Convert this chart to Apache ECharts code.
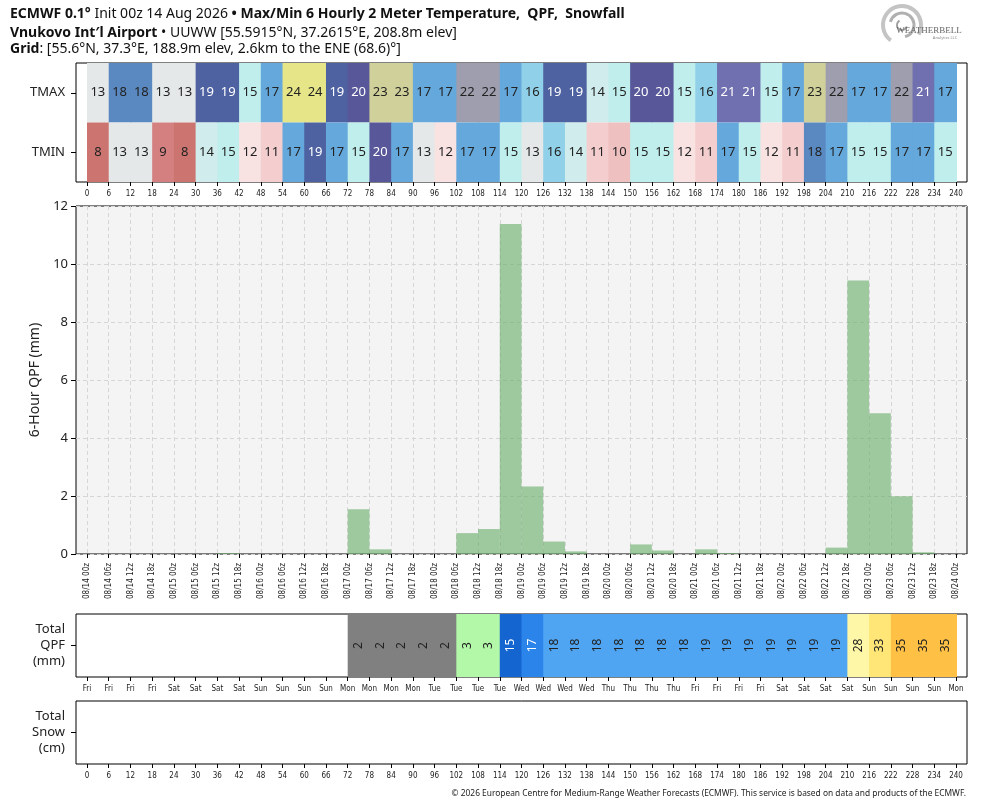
<!DOCTYPE html>
<html>
<head>
<meta charset="utf-8">
<title>ECMWF Vnukovo meteogram</title>
<script src="https://cdn.jsdelivr.net/npm/echarts@6/dist/echarts.min.js"></script>
<style>
html, body { margin: 0; padding: 0; background: #fff; }
#chart { width: 984px; height: 808px; }
</style>
</head>
<body>
<div id="chart"></div>
<script>
// forecast hour at the start of each 6 hour step
var stepHours = [0, 6, 12, 18, 24, 30, 36, 42, 48, 54, 60, 66, 72, 78, 84, 90, 96, 102, 108, 114,
    120, 126, 132, 138, 144, 150, 156, 162, 168, 174, 180, 186, 192, 198, 204, 210, 216, 222, 228, 234];

var tmax = [13, 18, 18, 13, 13, 19, 19, 15, 17, 24, 24, 19, 20, 23, 23, 17, 17, 22, 22, 17,
    16, 19, 19, 14, 15, 20, 20, 15, 16, 21, 21, 15, 17, 23, 22, 17, 17, 22, 21, 17];
var tmin = [8, 13, 13, 9, 8, 14, 15, 12, 11, 17, 19, 17, 15, 20, 17, 13, 12, 17, 17, 15,
    13, 16, 14, 11, 10, 15, 15, 12, 11, 17, 15, 12, 11, 18, 17, 15, 15, 17, 17, 15];

// 6-hour QPF (mm)
var qpf6 = [0, 0, 0, 0, 0, 0, 0.03, 0, 0, 0, 0, 0, 1.54, 0.16, 0, 0, 0, 0.72, 0.86, 11.38,
    2.33, 0.43, 0.09, 0, 0, 0.33, 0.12, 0, 0.16, 0.03, 0, 0, 0, 0, 0.22, 9.43, 4.85, 1.99, 0.06, 0];

// total QPF shown in the strip (mm), null = blank
var qpfTotal = [null, null, null, null, null, null, null, null, null, null, null, null,
    2, 2, 2, 2, 2, 3, 3, 15, 17, 18, 18, 18, 18, 18, 18, 18, 19, 19, 19, 19, 19, 19, 19,
    28, 33, 35, 35, 35];

// total snow (cm): nothing forecast
var snowTotal = [];

var timeLabels = ['08/14 00z', '08/14 06z', '08/14 12z', '08/14 18z', '08/15 00z', '08/15 06z',
    '08/15 12z', '08/15 18z', '08/16 00z', '08/16 06z', '08/16 12z', '08/16 18z', '08/17 00z',
    '08/17 06z', '08/17 12z', '08/17 18z', '08/18 00z', '08/18 06z', '08/18 12z', '08/18 18z',
    '08/19 00z', '08/19 06z', '08/19 12z', '08/19 18z', '08/20 00z', '08/20 06z', '08/20 12z',
    '08/20 18z', '08/21 00z', '08/21 06z', '08/21 12z', '08/21 18z', '08/22 00z', '08/22 06z',
    '08/22 12z', '08/22 18z', '08/23 00z', '08/23 06z', '08/23 12z', '08/23 18z', '08/24 00z'];

var dayLabels = ['Fri', 'Fri', 'Fri', 'Fri', 'Sat', 'Sat', 'Sat', 'Sat', 'Sun', 'Sun', 'Sun', 'Sun',
    'Mon', 'Mon', 'Mon', 'Mon', 'Tue', 'Tue', 'Tue', 'Tue', 'Wed', 'Wed', 'Wed', 'Wed',
    'Thu', 'Thu', 'Thu', 'Thu', 'Fri', 'Fri', 'Fri', 'Fri', 'Sat', 'Sat', 'Sat', 'Sat',
    'Sun', 'Sun', 'Sun', 'Sun', 'Mon'];

var FONT = 'Noto Sans';
var TICKFONT = '"DejaVu Sans Condensed", "Noto Sans"';

var tempColors = {
    8: '#cc7570', 9: '#d48080', 10: '#efc0c0', 11: '#f4cece', 12: '#f8e2e2', 13: '#e4e8e8',
    14: '#d0ecec', 15: '#bfeeed', 16: '#90d0e8', 17: '#64a8dc', 18: '#5a88c0', 19: '#4e62a2',
    20: '#57579a', 21: '#7070b0', 22: '#9e9eae', 23: '#d0d09a', 24: '#e6e688'
};
var qpfColors = {
    2: '#808080', 3: '#b3f7a8', 15: '#1565d0', 17: '#2b84ea', 18: '#4fa5f2', 19: '#4fa5f2',
    28: '#fff7a8', 33: '#ffe677', 35: '#ffc145'
};

function cellItem(colorOf, textOf, rotate, fontSize) {
    return function (params, api) {
        var start = api.value(0);
        var row = api.value(1);
        var v = api.value(2);
        var c = api.coord([start, row]);
        var sz = api.size([6, 1]);
        return {
            type: 'group',
            children: [{
                type: 'rect',
                shape: { x: c[0], y: c[1] - sz[1] / 2, width: sz[0] + 1, height: sz[1] },
                style: { fill: colorOf(v) }
            }, {
                type: 'text',
                x: c[0] + sz[0] / 2,
                y: c[1],
                rotation: rotate,
                style: {
                    text: String(v),
                    fill: textOf(v),
                    fontSize: fontSize,
                    fontFamily: FONT,
                    align: 'center',
                    verticalAlign: 'middle'
                }
            }]
        };
    };
}

function barItem(params, api) {
    var start = api.value(0);
    var val = api.value(1);
    var p0 = api.coord([start, val]);
    var p1 = api.coord([start + 6, 0]);
    return {
        type: 'rect',
        shape: { x: p0[0], y: p0[1], width: p1[0] - p0[0], height: p1[1] - p0[1] },
        style: { fill: 'rgba(100,170,100,0.6)' }
    };
}

var tempData = [];
stepHours.forEach(function (h, i) {
    tempData.push([h, 1, tmax[i]]);
    tempData.push([h, 0, tmin[i]]);
});
var qpfData = [];
stepHours.forEach(function (h, i) {
    if (qpf6[i] > 0) qpfData.push([h, qpf6[i]]);
});
var totalData = [];
stepHours.forEach(function (h, i) {
    if (qpfTotal[i] != null) totalData.push([h, 0, qpfTotal[i]]);
});
var snowData = [];
stepHours.forEach(function (h, i) {
    if (snowTotal[i] != null) snowData.push([h, 0, snowTotal[i]]);
});

// each panel: an outer frame grid (76..967) and an inner data grid (hour 0..240)
var panels = [
    { top: 63, height: 119 },
    { top: 206, height: 348 },
    { top: 614, height: 63 },
    { top: 701, height: 63 }
];
var grids = [];
panels.forEach(function (p, k) {
    grids.push({
        left: 76, width: 891, top: p.top, height: p.height, show: true,
        borderColor: '#000', borderWidth: 1,
        backgroundColor: k === 1 ? '#f4f4f4' : '#fff'
    });
    grids.push({ left: 87, width: 869, top: p.top, height: p.height });
});

function hiddenX(idx) {
    return {
        type: 'value', gridIndex: idx, min: -3, max: 243, show: false,
        axisTick: { show: false }, axisLabel: { show: false }, splitLine: { show: false }
    };
}
function innerX(idx, formatter, rotate, splitLine) {
    return {
        type: 'value', gridIndex: idx, min: 0, max: 240, interval: 6,
        axisLine: { show: false, onZero: false },
        axisTick: { show: true, length: 4, lineStyle: { color: '#000' } },
        axisLabel: {
            fontSize: 8, fontFamily: TICKFONT, color: '#222', margin: rotate ? 9 : 8,
            rotate: rotate, formatter: formatter
        },
        splitLine: splitLine ? { show: true, lineStyle: { color: '#d6d6d6', type: [4, 3] } } : { show: false }
    };
}
function catY(idx, labels, show) {
    return {
        type: 'category', gridIndex: idx, data: labels, show: show,
        axisLine: { show: false, onZero: false },
        axisTick: { show: show, alignWithLabel: true, length: 5, lineStyle: { color: '#000' } },
        axisLabel: { show: show, fontSize: 13, fontFamily: FONT, color: '#222', align: 'right', lineHeight: 16, margin: 11 },
        splitLine: { show: false }
    };
}

var chart = echarts.init(document.getElementById('chart'));

var option = {
    animation: false,
    grid: grids,
    xAxis: [
        hiddenX(0),
        innerX(1, null, 0, false),
        hiddenX(2),
        innerX(3, function (v) { return timeLabels[Math.round(v / 6)]; }, 90, true),
        hiddenX(4),
        innerX(5, function (v) { return dayLabels[Math.round(v / 6)]; }, 0, false),
        hiddenX(6),
        innerX(7, null, 0, false)
    ],
    yAxis: [
        catY(0, ['TMIN', 'TMAX'], true),
        catY(1, ['TMIN', 'TMAX'], false),
        {
            type: 'value', gridIndex: 2, min: 0, max: 12, interval: 2,
            name: '6-Hour QPF (mm)', nameLocation: 'middle', nameGap: 34, nameRotate: 90,
            nameTextStyle: { fontSize: 14, fontFamily: FONT, color: '#222' },
            axisLine: { show: false, onZero: false },
            axisTick: { show: true, length: 5, lineStyle: { color: '#000' } },
            axisLabel: { fontSize: 13, fontFamily: FONT, color: '#222', margin: 8 },
            splitLine: { show: true, lineStyle: { color: '#d6d6d6', type: [4, 3] } }
        },
        {
            type: 'value', gridIndex: 3, min: 0, max: 12, show: false,
            axisTick: { show: false }, axisLabel: { show: false }, splitLine: { show: false }
        },
        catY(4, ['Total\nQPF\n(mm)'], true),
        catY(5, ['q'], false),
        catY(6, ['Total\nSnow\n(cm)'], true),
        catY(7, ['s'], false)
    ],
    graphic: [
        {
            type: 'text', x: 10, y: 14,
            style: {
                text: '{b|ECMWF 0.1°} Init 00z 14 Aug 2026 {b|•} {b|Max/Min 6 Hourly 2 Meter Temperature,  QPF,  Snowfall}',
                fontSize: 14, fontFamily: FONT, fill: '#111', verticalAlign: 'middle',
                rich: { b: { fontWeight: 'bold', fontSize: 14, fontFamily: FONT } }
            }
        },
        {
            type: 'text', x: 10, y: 33,
            style: {
                text: '{b|Vnukovo Int′l Airport} • UUWW [55.5915°N, 37.2615°E, 208.8m elev]',
                fontSize: 14, fontFamily: FONT, fill: '#111', verticalAlign: 'middle',
                rich: { b: { fontWeight: 'bold', fontSize: 14, fontFamily: FONT } }
            }
        },
        {
            type: 'text', x: 10, y: 49,
            style: {
                text: '{b|Grid}: [55.6°N, 37.3°E, 188.9m elev, 2.6km to the ENE (68.6)°]',
                fontSize: 14, fontFamily: FONT, fill: '#111', verticalAlign: 'middle',
                rich: { b: { fontWeight: 'bold', fontSize: 14, fontFamily: FONT } }
            }
        },
        {
            type: 'group',
            children: [
                { type: 'arc', shape: { cx: 902, cy: 25, r: 19, startAngle: 2.2, endAngle: 6.8 },
                  style: { stroke: '#c4c4c4', lineWidth: 4, fill: null } },
                { type: 'arc', shape: { cx: 902, cy: 25, r: 12, startAngle: 3.4, endAngle: 7.6 },
                  style: { stroke: '#b0b0b0', lineWidth: 3, fill: null } },
                { type: 'arc', shape: { cx: 902, cy: 25, r: 5, startAngle: 0.3, endAngle: 4.2 },
                  style: { stroke: '#a0a0a0', lineWidth: 2, fill: null } },
                { type: 'text', x: 929, y: 31,
                  style: { text: 'WEATHERBELL', fontSize: 9, fontFamily: 'Liberation Serif', fill: '#666',
                      align: 'center', verticalAlign: 'middle' } },
                { type: 'text', x: 945, y: 38,
                  style: { text: 'Analytics LLC', fontSize: 4, fontFamily: FONT, fill: '#888',
                      align: 'center', verticalAlign: 'middle' } }
            ]
        },
        {
            type: 'text', x: 966, y: 794,
            style: {
                text: '© 2026 European Centre for Medium-Range Weather Forecasts (ECMWF). This service is based on data and products of the ECMWF.',
                fontSize: 8.4, fontFamily: FONT, fill: '#222', align: 'right', verticalAlign: 'middle'
            }
        }
    ],
    series: [
        {
            type: 'custom', name: 'Temperature', xAxisIndex: 1, yAxisIndex: 1,
            renderItem: cellItem(
                function (v) { return tempColors[v] || '#fff'; },
                function (v) { return (v >= 19 && v <= 21) ? '#fff' : '#222'; },
                0, 13),
            data: tempData
        },
        {
            type: 'custom', name: '6-Hour QPF', xAxisIndex: 3, yAxisIndex: 3,
            renderItem: barItem,
            data: qpfData
        },
        {
            type: 'custom', name: 'Total QPF', xAxisIndex: 5, yAxisIndex: 5,
            renderItem: cellItem(
                function (v) { return qpfColors[v] || '#fff'; },
                function (v) { return (v === 15 || v === 17) ? '#fff' : '#222'; },
                Math.PI / 2, 12),
            data: totalData
        },
        {
            type: 'custom', name: 'Total Snow', xAxisIndex: 7, yAxisIndex: 7,
            renderItem: cellItem(
                function () { return '#cfe8ff'; },
                function () { return '#222'; },
                Math.PI / 2, 12),
            data: snowData
        }
    ]
};

chart.setOption(option, true);
</script>
</body>
</html>
